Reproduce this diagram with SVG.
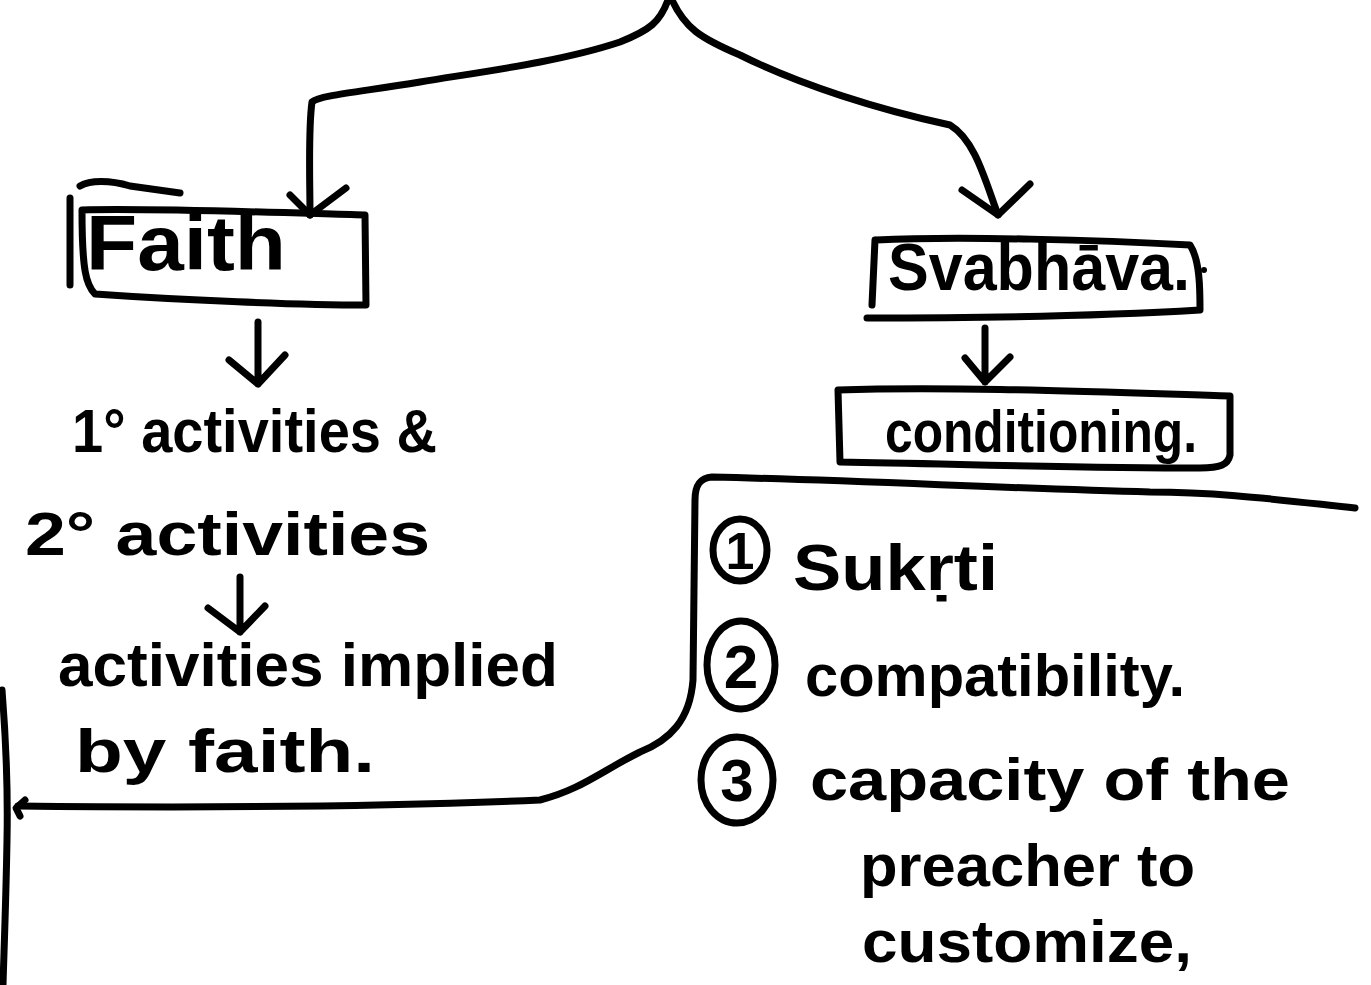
<svg xmlns="http://www.w3.org/2000/svg" width="1371" height="985" viewBox="0 0 1371 985">
<style>
.s{fill:none;stroke:#000;stroke-width:7;stroke-linecap:round;stroke-linejoin:round}
.t{font-family:"Liberation Sans",Arial,sans-serif;fill:#000;font-weight:bold}
</style>
<rect width="1371" height="985" fill="#fff"/>
<g id="connectors">
<path class="s" d="M668,0 C660,22 650,30 620,42 C560,62 480,72 420,82 C360,92 320,95 312,102 C308,130 310,180 310,215"/>
<path class="s" d="M290,195 L310,215 L346,188"/>
<path class="s" d="M672,0 C685,28 700,38 740,55 C800,85 880,110 950,125 C975,140 985,180 998,215"/>
<path class="s" d="M962,190 L998,215 L1030,184"/>
<path class="s" d="M258,322 L258,384 M229,360 L258,384 L285,355"/>
<path class="s" d="M985,328 L985,382 M965,358 L985,382 L1010,357"/>
<path class="s" d="M240,577 L240,632 M208,608 L240,632 L265,606"/>
<path class="s" d="M1355,508 C1280,500 1220,492 1150,492 C1000,488 850,480 712,477 C700,478 695,485 695,500 L693,680 C690,720 670,740 640,752 C600,772 580,790 540,800 C400,806 200,808 18,806"/>
<path class="s" d="M25,800 L16,808 L20,816"/>
<path class="s" d="M2,690 C6,740 8,790 7,840 C6,900 4,950 3,985"/>
</g>
<g id="faith">
<path class="s" d="M70,285 L70,198 M80,186 C90,180 110,180 130,186 L180,193"/>
<path class="s" d="M82,210 C150,208 260,212 365,215 L366,305 C300,305 180,300 95,294 C86,285 82,270 82,210 Z"/>
<text class="t" x="86" y="270" font-size="78" textLength="200" lengthAdjust="spacingAndGlyphs">Faith</text>
</g>
<g id="activities">
<text class="t" x="72" y="452" font-size="62" textLength="365" lengthAdjust="spacingAndGlyphs">1° activities &amp;</text>
<text class="t" x="25" y="555" font-size="62" textLength="405" lengthAdjust="spacingAndGlyphs">2° activities</text>
<text class="t" x="58" y="686" font-size="62" textLength="500" lengthAdjust="spacingAndGlyphs">activities implied</text>
<text class="t" x="75" y="772" font-size="62" textLength="300" lengthAdjust="spacingAndGlyphs">by faith.</text>
</g>
<g id="svabhava">
<path class="s" d="M876,240 C960,236 1100,240 1190,245 C1200,260 1200,290 1200,310 C1100,316 960,318 867,318 M875,240 L872,305"/>
<circle cx="1204" cy="270" r="3" fill="#000"/>
<text class="t" x="888" y="290" font-size="66" textLength="302" lengthAdjust="spacingAndGlyphs">Svabhāva.</text>
</g>
<g id="conditioning">
<path class="s" d="M838,390 C950,386 1100,392 1230,396 L1230,455 C1228,465 1220,468 1200,468 C1080,468 960,464 840,462 Z"/>
<text class="t" x="885" y="452" font-size="60" textLength="312" lengthAdjust="spacingAndGlyphs">conditioning.</text>
</g>
<g id="list">
<ellipse class="s" cx="740" cy="550" rx="27" ry="31"/>
<text class="t" x="740" y="569" font-size="52" text-anchor="middle">1</text>
<text class="t" x="793" y="590" font-size="64" textLength="205" lengthAdjust="spacingAndGlyphs">Sukṛti</text>
<ellipse class="s" cx="741" cy="665" rx="34" ry="44"/>
<text class="t" x="741" y="688" font-size="62" text-anchor="middle">2</text>
<text class="t" x="805" y="696" font-size="60" textLength="380" lengthAdjust="spacingAndGlyphs">compatibility.</text>
<ellipse class="s" cx="737" cy="780" rx="36" ry="43"/>
<text class="t" x="737" y="801" font-size="60" text-anchor="middle">3</text>
<text class="t" x="810" y="800" font-size="60" textLength="480" lengthAdjust="spacingAndGlyphs">capacity of the</text>
<text class="t" x="860" y="886" font-size="60" textLength="335" lengthAdjust="spacingAndGlyphs">preacher to</text>
<text class="t" x="862" y="962" font-size="60" textLength="330" lengthAdjust="spacingAndGlyphs">customize,</text>
</g>
</svg>
